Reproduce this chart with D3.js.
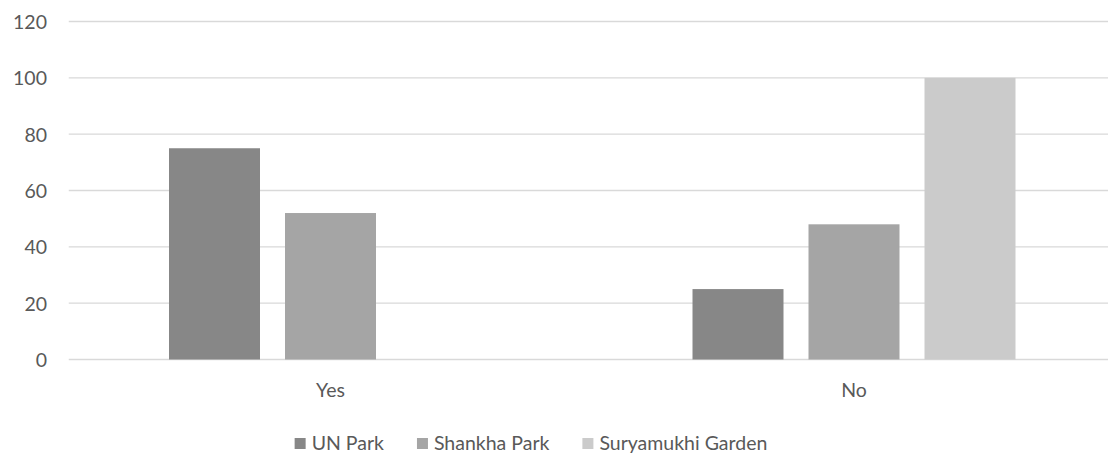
<!DOCTYPE html>
<html>
<head>
<meta charset="utf-8">
<script src="https://cdn.jsdelivr.net/npm/d3@7/dist/d3.min.js"></script>
<style>
  html, body { margin: 0; padding: 0; background: #fff; }
  svg { display: block; }
  text { font-family: Lato, "Open Sans", sans-serif; fill: #595959; }
</style>
</head>
<body>
<svg id="chart" width="1108" height="455"></svg>
<script>
// Responses per park
const categories = ["Yes", "No"];
const seriesNames = ["UN Park", "Shankha Park", "Suryamukhi Garden"];
const unPark = [75, 25];
const shankhaPark = [52, 48];
const suryamukhiGarden = [0, 100];
const yTicks = [0, 20, 40, 60, 80, 100, 120];
const seriesColors = ["#878787", "#a5a5a5", "#cbcbcb"];

const seriesValues = [unPark, shankhaPark, suryamukhiGarden];

const svg = d3.select("#chart");
const fontSize = 19.5;
const fontFamily = "Lato, 'Open Sans', sans-serif";

const x0 = d3.scaleBand()
  .domain(categories)
  .range([68.75, 1115.75])
  .paddingInner(0)
  .paddingOuter(0);

const groupWidth = 323;
const x1 = d3.scaleBand()
  .domain(seriesNames)
  .range([(x0.bandwidth() - groupWidth) / 2, (x0.bandwidth() + groupWidth) / 2])
  .paddingInner(0.2155)
  .paddingOuter(0);

const y = d3.scaleLinear().domain([0, 120]).range([359.5, 21.5]);

// Horizontal gridlines
svg.append("g")
  .selectAll("line")
  .data(yTicks)
  .join("line")
  .attr("x1", 68.75)
  .attr("x2", 1115.75)
  .attr("y1", d => y(d))
  .attr("y2", d => y(d))
  .attr("stroke", "#d9d9d9")
  .attr("stroke-width", 1.3);

// Y axis labels
const yAxis = d3.axisLeft(y).tickValues(yTicks).tickSize(0).tickPadding(0);
const yG = svg.append("g")
  .attr("transform", "translate(47,0)")
  .call(yAxis);
yG.select(".domain").remove();
yG.selectAll("text")
  .attr("font-size", fontSize)
  .attr("fill", "#595959")
  .style("font-family", fontFamily)
  .attr("dy", "0.36em");

// Bars
const groups = svg.append("g")
  .selectAll("g")
  .data(categories)
  .join("g")
  .attr("transform", d => `translate(${x0(d)},0)`);

groups.selectAll("rect")
  .data((c, ci) => seriesNames.map((s, si) => ({ series: s, value: seriesValues[si][ci], color: seriesColors[si] })))
  .join("rect")
  .attr("x", d => x1(d.series))
  .attr("width", x1.bandwidth())
  .attr("y", d => y(d.value))
  .attr("height", d => y(0) - y(d.value))
  .attr("fill", d => d.color);

// X axis labels
const xAxis = d3.axisBottom(x0).tickSize(0).tickPadding(0);
const xG = svg.append("g")
  .attr("transform", "translate(0,383)")
  .call(xAxis);
xG.select(".domain").remove();
xG.selectAll("text")
  .attr("font-size", fontSize)
  .attr("fill", "#595959")
  .style("font-family", fontFamily)
  .attr("dy", "0.71em");

// Legend
const legend = svg.append("g");
const items = legend.selectAll("g")
  .data(seriesNames)
  .join("g");
items.append("rect")
  .attr("width", 11)
  .attr("height", 11)
  .attr("y", 438)
  .attr("fill", (d, i) => seriesColors[i]);
items.append("text")
  .attr("x", 17)
  .attr("y", 449.5)
  .attr("font-size", fontSize)
  .text(d => d);

let offset = 0;
const itemGap = 33;
items.each(function () {
  const g = d3.select(this);
  const w = 17 + g.select("text").node().getComputedTextLength();
  g.attr("transform", `translate(${offset},0)`);
  offset += w + itemGap;
});
const totalWidth = offset - itemGap;
legend.attr("transform", `translate(${531 - totalWidth / 2},0)`);
</script>
</body>
</html>
